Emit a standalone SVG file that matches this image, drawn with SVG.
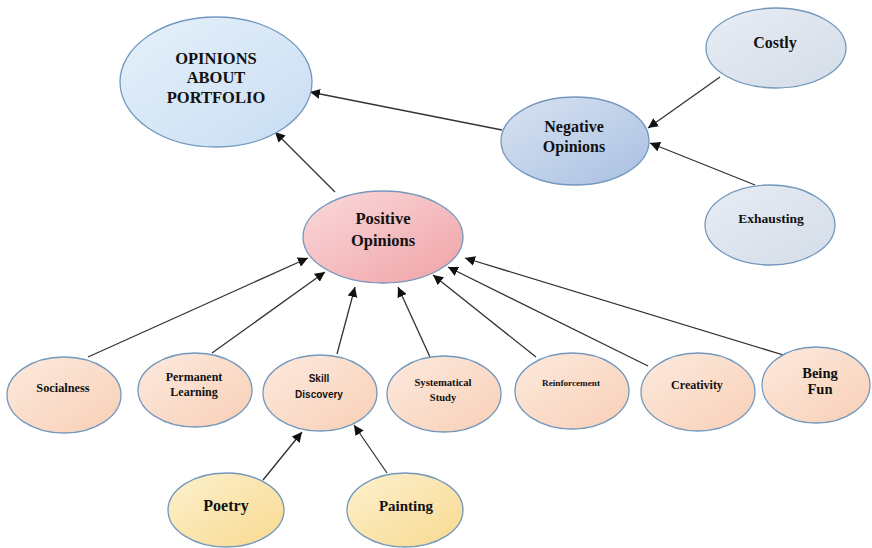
<svg xmlns="http://www.w3.org/2000/svg" width="872" height="548" viewBox="0 0 872 548">
<defs>
<linearGradient id="gMain" x1="0" y1="0" x2="1" y2="1"><stop offset="0" stop-color="#e6f1fb"/><stop offset="1" stop-color="#c8ddf2"/></linearGradient>
<linearGradient id="gNeg" x1="0" y1="0" x2="1" y2="1"><stop offset="0" stop-color="#d9e3f2"/><stop offset="1" stop-color="#a9c0e2"/></linearGradient>
<linearGradient id="gGray" x1="0" y1="0" x2="1" y2="1"><stop offset="0" stop-color="#e8edf4"/><stop offset="1" stop-color="#d3dce8"/></linearGradient>
<linearGradient id="gPos" x1="0" y1="0" x2="1" y2="1"><stop offset="0" stop-color="#fadadc"/><stop offset="1" stop-color="#f0a2a6"/></linearGradient>
<linearGradient id="gPeach" x1="0" y1="0" x2="1" y2="1"><stop offset="0" stop-color="#fdeade"/><stop offset="1" stop-color="#f8cfb6"/></linearGradient>
<linearGradient id="gYel" x1="0" y1="0" x2="1" y2="1"><stop offset="0" stop-color="#fdf1cf"/><stop offset="1" stop-color="#f8d98f"/></linearGradient>
<marker id="arr" viewBox="0 0 10 10" refX="10" refY="5" markerWidth="10" markerHeight="10" markerUnits="userSpaceOnUse" orient="auto">
<path d="M0,0 L10,5 L0,10 z" fill="#111"/>
</marker>
</defs>
<style>
ellipse{stroke:#7398bd;stroke-width:1.3}
.t{font-family:"Liberation Serif","Times New Roman",serif;font-weight:bold;fill:#111;text-anchor:middle}
.s{font-family:"Liberation Sans",Arial,sans-serif;font-weight:bold;fill:#111;text-anchor:middle}
.c line{stroke:#333;stroke-width:1.3;marker-end:url(#arr)}
</style>
<rect width="872" height="548" fill="#fff"/>
<g class="c" id="connectors">
<line x1="502" y1="130" x2="310" y2="92"/>
<line x1="335" y1="192" x2="275" y2="132"/>
<line x1="720" y1="77" x2="648" y2="128"/>
<line x1="755" y1="185" x2="650" y2="143"/>
<line x1="88" y1="357" x2="308" y2="258"/>
<line x1="212" y1="353" x2="325" y2="272"/>
<line x1="337" y1="354" x2="355" y2="287"/>
<line x1="430" y1="357" x2="398" y2="287"/>
<line x1="536" y1="357" x2="433" y2="275"/>
<line x1="648" y1="366" x2="448" y2="267"/>
<line x1="790" y1="357" x2="465" y2="258"/>
<line x1="263" y1="480" x2="302" y2="432"/>
<line x1="387" y1="473" x2="354" y2="425"/>
</g>
<g id="opinions"><ellipse cx="216" cy="82" rx="96" ry="65" fill="url(#gMain)"/>
<text class="t" font-size="16.5" x="216" y="64">OPINIONS</text><text class="t" font-size="16.5" x="216" y="83">ABOUT</text><text class="t" font-size="16.5" x="216" y="103">PORTFOLIO</text></g>
<g id="costly"><ellipse cx="776" cy="48" rx="70" ry="40" fill="url(#gGray)"/><text class="t" font-size="16" x="775" y="48">Costly</text></g>
<g id="negative"><ellipse cx="575" cy="141" rx="74" ry="44" fill="url(#gNeg)"/>
<text class="t" font-size="16" x="574" y="132">Negative</text><text class="t" font-size="16" x="574" y="152">Opinions</text></g>
<g id="exhausting"><ellipse cx="770" cy="225" rx="65" ry="40" fill="url(#gGray)"/><text class="t" font-size="13.5" x="771" y="223">Exhausting</text></g>
<g id="positive"><ellipse cx="383" cy="237" rx="80" ry="46" fill="url(#gPos)"/>
<text class="t" font-size="16.5" x="383" y="224">Positive</text><text class="t" font-size="16.5" x="383" y="246">Opinions</text></g>
<g id="socialness"><ellipse cx="64" cy="395" rx="57" ry="38" fill="url(#gPeach)"/><text class="t" font-size="12.3" x="63" y="392">Socialness</text></g>
<g id="permanent"><ellipse cx="195" cy="390" rx="57" ry="37" fill="url(#gPeach)"/>
<text class="t" font-size="12" x="194" y="381">Permanent</text><text class="t" font-size="12" x="194" y="396">Learning</text></g>
<g id="skill"><ellipse cx="320" cy="393" rx="57" ry="38" fill="url(#gPeach)"/>
<text class="s" font-size="10" x="319" y="382">Skill</text><text class="s" font-size="10" x="319" y="398">Discovery</text></g>
<g id="systematical"><ellipse cx="444" cy="394" rx="57" ry="38" fill="url(#gPeach)"/>
<text class="t" font-size="10.6" x="443" y="386">Systematical</text><text class="t" font-size="10.6" x="443" y="401">Study</text></g>
<g id="reinforcement"><ellipse cx="572" cy="391" rx="57" ry="38" fill="url(#gPeach)"/><text class="t" font-size="9.2" x="571" y="386">Reinforcement</text></g>
<g id="creativity"><ellipse cx="698" cy="392" rx="57" ry="39" fill="url(#gPeach)"/><text class="t" font-size="12" x="697" y="389">Creativity</text></g>
<g id="beingfun"><ellipse cx="816" cy="385" rx="54" ry="38" fill="url(#gPeach)"/>
<text class="t" font-size="14.5" x="820" y="378">Being</text><text class="t" font-size="14.5" x="820" y="394">Fun</text></g>
<g id="poetry"><ellipse cx="226" cy="510" rx="58" ry="37" fill="url(#gYel)"/><text class="t" font-size="16" x="226" y="511">Poetry</text></g>
<g id="painting"><ellipse cx="405" cy="510" rx="58" ry="37" fill="url(#gYel)"/><text class="t" font-size="15" x="406" y="511">Painting</text></g>
</svg>
